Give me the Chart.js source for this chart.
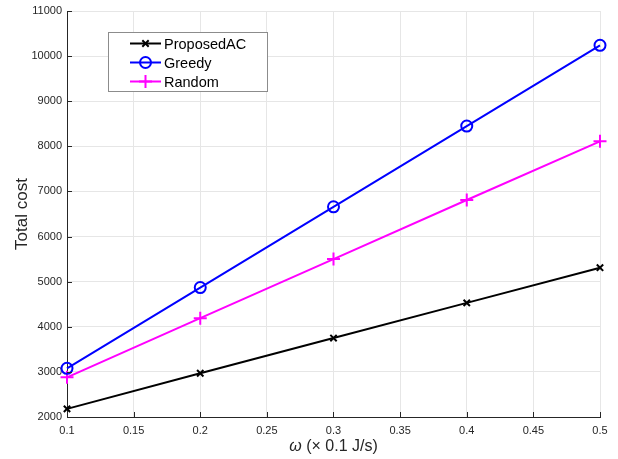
<!DOCTYPE html>
<html>
<head>
<meta charset="utf-8">
<script src="https://cdn.jsdelivr.net/npm/chart.js@4/dist/chart.umd.min.js"></script>
<style>
html,body{margin:0;padding:0;background:#fff;}
#wrap{width:618px;height:459px;position:relative;}
</style>
</head>
<body>
<div id="wrap"><canvas id="c" width="618" height="459"></canvas></div>
<script>
const omega = [0.1, 0.2, 0.3, 0.4, 0.5];
const proposedAC = [2180, 2970, 3750, 4530, 5310];
const greedy = [3080, 4870, 6660, 8450, 10240];
const random = [2880, 4190, 5500, 6810, 8110];
const xTicks = [0.1, 0.15, 0.2, 0.25, 0.3, 0.35, 0.4, 0.45, 0.5];
const yTicks = [2000, 3000, 4000, 5000, 6000, 7000, 8000, 9000, 10000, 11000];
const seriesNames = ['ProposedAC', 'Greedy', 'Random'];

const FONT = "'Liberation Sans', Arial, sans-serif";
const TXT = '#262626';

const toPts = arr => arr.map((v, i) => ({x: omega[i], y: v}));

const decor = {
  id: 'decor',
  afterDraw(chart) {
    const ctx = chart.ctx;
    const xs = chart.scales.x, ys = chart.scales.y;
    const a = chart.chartArea;
    ctx.save();
    ctx.strokeStyle = TXT;
    ctx.lineWidth = 1;
    ctx.beginPath();
    xTicks.forEach(t => {
      const px = Math.round(xs.getPixelForValue(t)) + 0.5;
      ctx.moveTo(px, a.bottom); ctx.lineTo(px, a.bottom - 5);
    });
    yTicks.forEach(t => {
      const py = Math.round(ys.getPixelForValue(t)) + 0.5;
      ctx.moveTo(a.left, py); ctx.lineTo(a.left + 5, py);
    });
    ctx.stroke();

    // x axis title with italic omega
    ctx.fillStyle = TXT;
    ctx.textBaseline = 'middle';
    const cx = (a.left + a.right) / 2;
    const yT = 447;
    ctx.font = 'italic 16px ' + FONT;
    const w1 = ctx.measureText('\u03C9').width;
    ctx.font = '16px ' + FONT;
    const rest = ' (\u00D7 0.1 J/s)';
    const w2 = ctx.measureText(rest).width;
    let sx = cx - (w1 + w2) / 2;
    ctx.textAlign = 'left';
    ctx.font = 'italic 16px ' + FONT;
    ctx.fillText('\u03C9', sx, yT);
    ctx.font = '16px ' + FONT;
    ctx.fillText(rest, sx + w1, yT);

    // legend
    const bx = 108.5, by = 32.5, bw = 159, bh = 59;
    ctx.fillStyle = '#ffffff';
    ctx.fillRect(bx, by, bw, bh);
    ctx.strokeStyle = '#8c8c8c';
    ctx.lineWidth = 1;
    ctx.strokeRect(bx, by, bw, bh);
    const rows = [43.5, 62.5, 81.5];
    chart.data.datasets.forEach((ds, i) => {
      const yy = rows[i];
      ctx.strokeStyle = ds.borderColor;
      ctx.lineWidth = 2;
      ctx.beginPath(); ctx.moveTo(130, yy); ctx.lineTo(161, yy); ctx.stroke();
      ctx.fillStyle = 'rgba(0,0,0,0)';
      ctx.strokeStyle = ds.borderColor;
      Chart.helpers.drawPoint(ctx, {
        pointStyle: ds.pointStyle, radius: ds.pointRadius, borderWidth: ds.pointBorderWidth, rotation: 0
      }, 145.5, yy);
      ctx.fillStyle = '#000';
      ctx.font = '14.5px ' + FONT;
      ctx.textAlign = 'left';
      ctx.textBaseline = 'middle';
      ctx.fillText(ds.label, 164, yy + 1);
    });
    ctx.restore();
  }
};

new Chart(document.getElementById('c'), {
  type: 'line',
  data: {
    datasets: [
      {label: seriesNames[0], data: toPts(proposedAC), borderColor: '#000000', backgroundColor: '#000000',
       borderWidth: 2, pointStyle: 'crossRot', pointRadius: 4.5, pointBorderWidth: 2, pointBorderColor: '#000000', clip: false},
      {label: seriesNames[1], data: toPts(greedy), borderColor: '#0000ff', backgroundColor: 'rgba(0,0,0,0)',
       borderWidth: 2, pointStyle: 'circle', pointRadius: 5.5, pointBorderWidth: 2, pointBorderColor: '#0000ff',
       pointBackgroundColor: 'rgba(0,0,0,0)', clip: false},
      {label: seriesNames[2], data: toPts(random), borderColor: '#ff00ff', backgroundColor: '#ff00ff',
       borderWidth: 2, pointStyle: 'cross', pointRadius: 6.5, pointBorderWidth: 2, pointBorderColor: '#ff00ff', clip: false}
    ]
  },
  options: {
    responsive: false,
    animation: false,
    devicePixelRatio: 1,
    layout: {padding: {left: 0, top: 11, right: 18, bottom: 0}},
    plugins: {legend: {display: false}, tooltip: {enabled: false}},
    elements: {line: {tension: 0}},
    scales: {
      x: {
        type: 'linear', min: 0.1, max: 0.5,
        afterBuildTicks: s => { s.ticks = xTicks.map(v => ({value: v})); },
        afterFit: s => { s.height = 42; s.paddingLeft = 0; s.paddingRight = 0; },
        ticks: {autoSkip: false, maxRotation: 0, padding: 7, color: TXT,
                font: {family: FONT, size: 11},
                callback: v => String(v)},
        grid: {color: '#e6e6e6', drawTicks: false, lineWidth: 1},
        border: {color: TXT, width: 1}
      },
      y: {
        type: 'linear', min: 2000, max: 11000,
        afterBuildTicks: s => { s.ticks = yTicks.map(v => ({value: v})); },
        afterFit: s => { s.width = 67; s.paddingTop = 0; s.paddingBottom = 0; },
        ticks: {autoSkip: false, padding: 5, color: TXT,
                font: {family: FONT, size: 11},
                callback: v => String(v)},
        grid: {color: '#e6e6e6', drawTicks: false, lineWidth: 1},
        border: {color: TXT, width: 1},
        title: {display: true, text: 'Total cost', color: TXT,
                font: {family: FONT, size: 17}, padding: {top: 12}}
      }
    }
  },
  plugins: [decor]
});
</script>
</body>
</html>
